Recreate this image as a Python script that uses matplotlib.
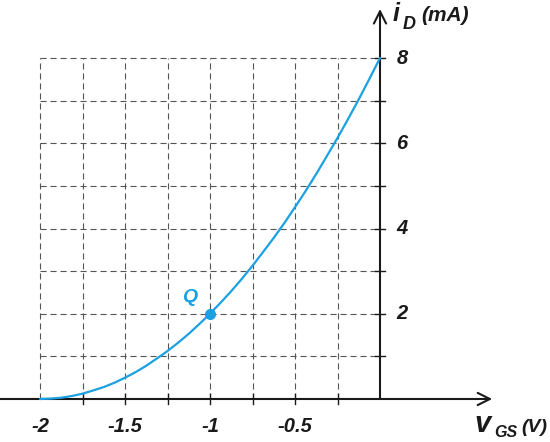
import matplotlib.pyplot as plt

plt.rcParams['font.family'] = ['Liberation Sans', 'DejaVu Sans']

# transfer curve values
vgs = [-2, -1.9375, -1.875, -1.8125, -1.75, -1.6875, -1.625, -1.5625, -1.5,
       -1.4375, -1.375, -1.3125, -1.25, -1.1875, -1.125, -1.0625, -1,
       -0.9375, -0.875, -0.8125, -0.75, -0.6875, -0.625, -0.5625, -0.5,
       -0.4375, -0.375, -0.3125, -0.25, -0.1875, -0.125, -0.0625, 0]
i_d = [0, 0.01, 0.03, 0.07, 0.125, 0.2, 0.28, 0.38, 0.5,
       0.63, 0.78, 0.95, 1.125, 1.32, 1.53, 1.76, 2,
       2.26, 2.53, 2.82, 3.125, 3.45, 3.78, 4.13, 4.5,
       4.88, 5.28, 5.7, 6.125, 6.57, 7.03, 7.51, 8]
q_point = (-1, 2)
grid_x = [-2, -1.75, -1.5, -1.25, -1, -0.75, -0.5, -0.25]
grid_y = [1, 2, 3, 4, 5, 6, 7, 8]
x_ticklabels = {-2: '-2', -1.5: '-1.5', -1: '-1', -0.5: '-0.5'}
y_ticklabels = {8: '8', 6: '6', 4: '4', 2: '2'}

blue = '#1ba1e2'
dark = '#1a1a1a'

fig = plt.figure(figsize=(5.5, 4.42), dpi=100)
ax = fig.add_axes([0, 0, 1, 1])
ax.set_xlim(-2.2353, 1.0)
ax.set_ylim(-1.009, 9.361)
ax.axis('off')

# dashed grid
for x in grid_x:
    ax.plot([x, x], [0, 8], color='#555555', lw=0.8, dashes=(5.5, 3.5), zorder=1)
for y in grid_y:
    ax.plot([-2, 0], [y, y], color='#555555', lw=0.8, dashes=(5.5, 3.5), zorder=1)

# axes with arrows
ax.annotate('', xy=(0.66, 0), xytext=(-2.2353, 0),
            arrowprops=dict(arrowstyle='->', lw=1.5, color=dark, mutation_scale=22,
                            shrinkA=0, shrinkB=0), zorder=3)
ax.annotate('', xy=(0, 9.15), xytext=(0, 0),
            arrowprops=dict(arrowstyle='->', lw=1.5, color=dark, mutation_scale=22,
                            shrinkA=0, shrinkB=0), zorder=3)

# small tick marks
for x in grid_x[1:]:
    ax.plot([x, x], [-0.12, 0.12], color=dark, lw=1.0, zorder=3)
for y in grid_y:
    ax.plot([-0.03, 0.03], [y, y], color=dark, lw=1.0, zorder=3)

# tick labels
for x, s in x_ticklabels.items():
    ax.text(x, -0.64, s, ha='center', va='center', fontsize=14.5,
            fontweight='bold', fontstyle='italic', color=dark)
for y, s in y_ticklabels.items():
    ax.text(0.13, y, s, ha='center', va='center', fontsize=14.5,
            fontweight='bold', fontstyle='italic', color=dark)

# axis labels
lab = dict(ha='left', va='baseline', fontweight='bold', fontstyle='italic', color=dark)
ax.text(0.075, 8.87, 'i', fontsize=18, **lab)
ax.text(0.135, 8.68, 'D', fontsize=13, **lab)
ax.text(0.24, 8.87, '(mA)', fontsize=15, **lab)

ax.text(0.555, -0.775, 'v', fontsize=21, **lab)
ax.text(0.672, -0.89, 'GS', fontsize=11.5, **lab)
ax.text(0.83, -0.775, '(V)', fontsize=14, **lab)

# transfer curve and Q point
ax.plot(vgs, i_d, color=blue, lw=1.6, zorder=4, solid_capstyle='round')
ax.plot(*q_point, 'o', color=blue, ms=7, zorder=5)
ax.text(q_point[0] - 0.12, q_point[1] + 0.38, 'Q', ha='center', va='center',
        fontsize=14, fontweight='bold', fontstyle='italic', color=blue)

plt.savefig('out.png', dpi=100)
